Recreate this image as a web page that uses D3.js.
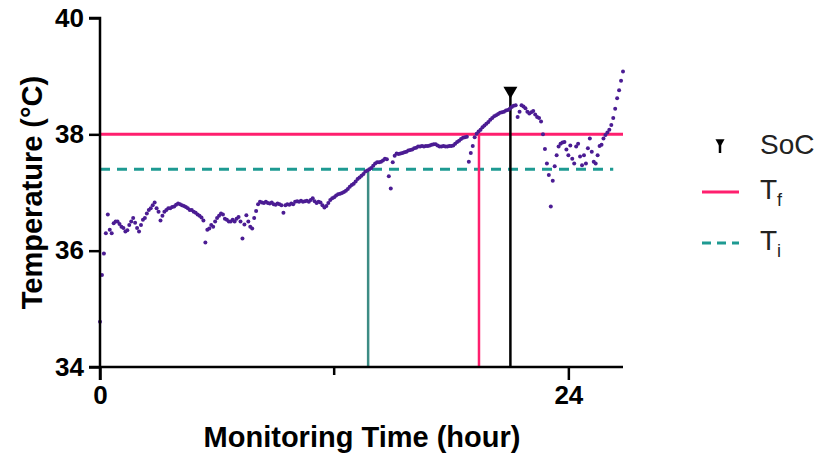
<!DOCTYPE html>
<html>
<head>
<meta charset="utf-8">
<script src="https://cdn.jsdelivr.net/npm/d3@7"></script>
<style>
  body { margin: 0; background: #fff; }
  svg { font-family: "Liberation Sans", Arial, sans-serif; }
</style>
</head>
<body>
<div id="chart"></div>
<script>
// ---------------------------------------------------------------- Data
var startHour   = 0;
var sampleHours = 0.1;   // logger interval
var temps = [
  34.78, 35.58, 35.95, 36.30, 36.62, 36.36, 36.30, 36.47, 36.50, 36.50,
  36.46, 36.41, 36.39, 36.33, 36.35, 36.44, 36.50, 36.56, 36.48, 36.39,
  36.33, 36.44, 36.53, 36.56, 36.64, 36.70, 36.73, 36.78, 36.83, 36.73,
  36.67, 36.52, 36.60, 36.67, 36.70, 36.73, 36.73, 36.75, 36.76, 36.79,
  36.81, 36.80, 36.78, 36.77, 36.75, 36.73, 36.70, 36.70, 36.67, 36.65,
  36.62, 36.60, 36.57, 36.52, 36.14, 36.36, 36.38, 36.44, 36.41, 36.50,
  36.56, 36.60, 36.64, 36.62, 36.55, 36.53, 36.50, 36.50, 36.53, 36.50,
  36.55, 36.58, 36.50, 36.21, 36.45, 36.61, 36.50, 36.41, 36.38, 36.56,
  36.68, 36.80, 36.84, 36.83, 36.82, 36.84, 36.82, 36.81, 36.83, 36.80,
  36.79, 36.81, 36.80, 36.78, 36.65, 36.78, 36.80, 36.79, 36.81, 36.80,
  36.84, 36.85, 36.84, 36.86, 36.84, 36.85, 36.86, 36.84, 36.87, 36.90,
  36.85, 36.82, 36.84, 36.83, 36.78, 36.74, 36.77, 36.82, 36.87, 36.90,
  36.92, 36.95, 36.97, 36.98, 36.99, 37.01, 37.03, 37.06, 37.10, 37.13,
  37.15, 37.19, 37.23, 37.26, 37.29, 37.32, 37.36, 37.38, 37.40, 37.42,
  37.46, 37.50, 37.52, 37.52, 37.53, 37.55, 37.58, 37.57, 37.28, 37.07,
  37.52, 37.63, 37.67, 37.66, 37.67, 37.68, 37.69, 37.70, 37.72, 37.73,
  37.74, 37.76, 37.77, 37.79, 37.79, 37.80, 37.79, 37.80, 37.80, 37.81,
  37.82, 37.83, 37.83, 37.81, 37.79, 37.79, 37.80, 37.79, 37.79, 37.80,
  37.80, 37.81, 37.84, 37.87, 37.89, 37.92, 37.94, 37.95, 37.96, 37.53,
  37.68, 37.80, 37.95, 38.01, 38.05, 38.08, 38.12, 38.15, 38.18, 38.21,
  38.25, 38.28, 38.31, 38.33, 38.35, 38.37, 38.38, 38.39, 38.41, 38.42,
  38.44, 38.47, 38.49, 38.50, 38.30, 38.39, 38.50, 38.48, 38.45, 38.39,
  38.36, 38.38, 38.40, 38.34, 38.30, 38.28, 38.22, 38.00, 37.75, 37.50,
  37.30, 36.76, 37.20, 37.45, 37.64, 37.79, 37.84, 37.86, 37.87, 37.74,
  37.64, 37.81, 37.58, 37.50, 37.79, 37.84, 37.62, 37.47, 37.64, 37.50,
  37.76, 37.93, 37.70, 37.53, 37.50, 37.64, 37.80, 37.82, 37.93, 37.99,
  38.03, 38.08, 38.16, 38.28, 38.44, 38.62, 38.76, 38.92, 39.08
];

var yTicks  = [34, 36, 38, 40];
var xTicks  = [0, 24];
var xMinor  = [12];

var tempInitial = 37.4;   // T_i
var tempFinal   = 38.0;   // T_f
var hourAtTi    = 13.74;
var hourAtTf    = 19.42;
var hourAtSoC   = 21.03;
var tempAtSoC   = 38.75;

var legendItems = ['SoC', 'Tf', 'Ti'];
// --------------------------------------------------------------- /Data

var data = temps.map(function(t, i) {
  return {hour: startHour + i * sampleHours, temp: t};
});

var margin = {top: 18, left: 100},
    width  = 523,
    height = 349;

var x = d3.scaleLinear().domain([0, 26.8]).range([0, width]);
var y = d3.scaleLinear().domain([34, 40]).range([height, 0]);

var pink   = '#ff1f6e',
    teal   = '#1e9a92',
    tealV  = '#3c8c84',
    purple = '#4b1c93';

var svg = d3.select('#chart').append('svg')
    .attr('width', 816)
    .attr('height', 462);

var g = svg.append('g')
    .attr('transform', 'translate(' + margin.left + ',' + margin.top + ')');

// reference lines
g.append('line')
    .attr('x1', x(0)).attr('x2', x(26.8))
    .attr('y1', y(tempFinal)).attr('y2', y(tempFinal))
    .attr('stroke', pink).attr('stroke-width', 3);

g.append('line')
    .attr('x1', x(0)).attr('x2', x(26.3))
    .attr('y1', y(tempInitial)).attr('y2', y(tempInitial))
    .attr('stroke', teal).attr('stroke-width', 3)
    .attr('stroke-dasharray', '10,7');

g.append('line')
    .attr('x1', x(hourAtTi)).attr('x2', x(hourAtTi))
    .attr('y1', y(34)).attr('y2', y(tempInitial))
    .attr('stroke', tealV).attr('stroke-width', 2.5);

g.append('line')
    .attr('x1', x(hourAtTf)).attr('x2', x(hourAtTf))
    .attr('y1', y(34)).attr('y2', y(tempFinal))
    .attr('stroke', pink).attr('stroke-width', 2.5);

g.append('line')
    .attr('x1', x(hourAtSoC)).attr('x2', x(hourAtSoC))
    .attr('y1', y(34)).attr('y2', y(tempAtSoC))
    .attr('stroke', '#000').attr('stroke-width', 2.5);

g.append('path')
    .attr('d', d3.symbol().type(d3.symbolTriangle).size(85)())
    .attr('transform', 'translate(' + x(hourAtSoC) + ',' + y(tempAtSoC) + ') rotate(180)')
    .attr('fill', '#000');

// temperature dots
g.append('g').selectAll('circle')
    .data(data)
  .enter().append('circle')
    .attr('cx', function(d) { return x(d.hour); })
    .attr('cy', function(d) { return y(d.temp); })
    .attr('r', 2)
    .attr('fill', purple);

// axes
var yAxis = d3.axisLeft(y).tickValues(yTicks).tickFormat(d3.format('d'))
    .tickSize(11).tickPadding(5);
var xAxis = d3.axisBottom(x).tickValues(xTicks).tickFormat(d3.format('d'))
    .tickSize(13).tickPadding(6);

var yg = g.append('g').call(yAxis);
yg.select('.domain').attr('d', 'M0,' + (height + 13) + 'V0H-11');

var xg = g.append('g')
    .attr('transform', 'translate(0,' + height + ')')
    .call(xAxis);
xg.select('.domain').attr('d', 'M-11,0H' + width);

xg.selectAll('.minor')
    .data(xMinor)
  .enter().append('line')
    .attr('class', 'minor')
    .attr('x1', function(d) { return x(d); })
    .attr('x2', function(d) { return x(d); })
    .attr('y1', 0).attr('y2', 8);

[yg, xg].forEach(function(a) {
  a.selectAll('.domain, line').attr('stroke', '#000').attr('stroke-width', 2.5);
  a.selectAll('text')
      .attr('fill', '#000')
      .style('font-size', '26px')
      .style('font-weight', 'bold');
});

// axis titles
svg.append('text')
    .attr('transform', 'translate(42,' + (margin.top + height / 2) + ') rotate(-90)')
    .attr('text-anchor', 'middle')
    .style('font-size', '29px')
    .style('font-weight', 'bold')
    .text('Temperature (°C)');

svg.append('text')
    .attr('x', 362)
    .attr('y', 447)
    .attr('text-anchor', 'middle')
    .style('font-size', '29px')
    .style('font-weight', 'bold')
    .text('Monitoring Time (hour)');

// legend
var legend = svg.append('g').attr('transform', 'translate(702,0)');

legend.append('line')
    .attr('x1', 18).attr('x2', 18).attr('y1', 141).attr('y2', 153)
    .attr('stroke', '#000').attr('stroke-width', 2.5);
legend.append('path')
    .attr('d', d3.symbol().type(d3.symbolTriangle).size(36)())
    .attr('transform', 'translate(18,142) rotate(180)')
    .attr('fill', '#000');

legend.append('line')
    .attr('x1', 0).attr('x2', 37).attr('y1', 192).attr('y2', 192)
    .attr('stroke', pink).attr('stroke-width', 3);

legend.append('line')
    .attr('x1', 0).attr('x2', 37).attr('y1', 243).attr('y2', 243)
    .attr('stroke', teal).attr('stroke-width', 3)
    .attr('stroke-dasharray', '9,6');

var legendY = [154, 199, 250];
legendItems.forEach(function(name, i) {
  var t = legend.append('text')
      .attr('x', 58)
      .attr('y', legendY[i])
      .attr('fill', '#222')
      .style('font-size', '28px');
  if (name === 'SoC') {
    t.text('SoC');
  } else {
    t.append('tspan').text(name[0]);
    t.append('tspan')
        .attr('dy', 7)
        .style('font-size', '18px')
        .text(name[1]);
  }
});
</script>
</body>
</html>
